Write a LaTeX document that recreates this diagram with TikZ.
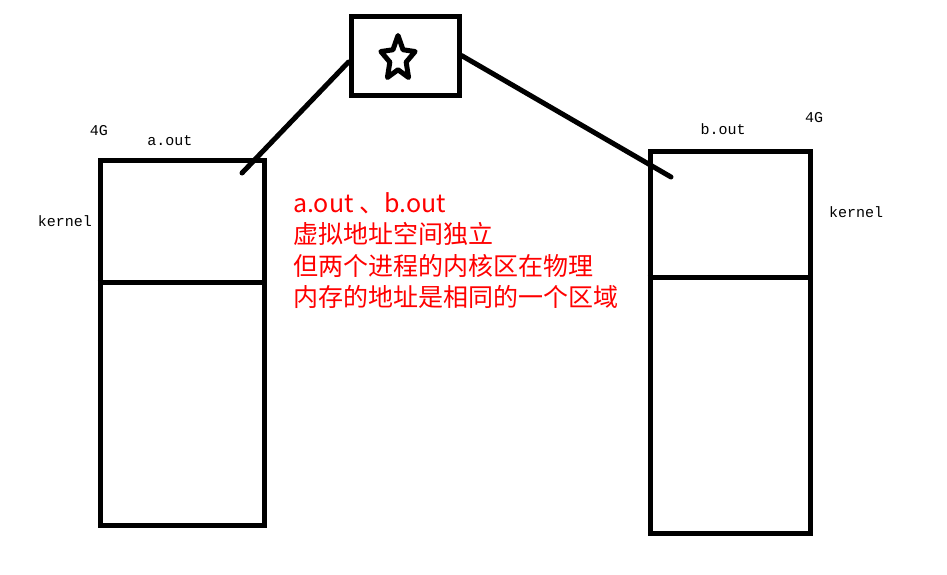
\documentclass[tikz,border=0pt]{standalone}
\usepackage{fontspec}
\newfontfamily\cjkfont{Noto Sans CJK SC}
\newfontfamily\labelfont{Liberation Mono}
\usetikzlibrary{shapes.geometric}
\begin{document}
\begin{tikzpicture}[x=1pt,y=-1pt,
    box/.style={draw,line width=5pt,inner sep=0pt},
    link/.style={line width=5pt,line cap=round},
    lbl/.style={font=\labelfont\fontsize{15}{15}\selectfont,inner sep=0pt}]
  \useasboundingbox (0,0) rectangle (947,574);
  \node[box,minimum width=164pt,minimum height=365pt] (amem) at (182,342.5) {};
  \draw[line width=5pt] (amem.west |- 0,282) -- (amem.east |- 0,282);
  \node[box,minimum width=160pt,minimum height=382pt] (bmem) at (730,342) {};
  \draw[line width=5pt] (bmem.west |- 0,277) -- (bmem.east |- 0,277);
  \node[box,minimum width=108pt,minimum height=79pt] (starbox) at (405,55.5) {};
  \begin{scope}[shift={(398,58.7)},yscale=1.29]
    \node[draw,star,star points=5,star point ratio=2.1,minimum size=36pt,
      line width=5pt,line join=round,inner sep=0pt,transform shape] (star) at (0,0) {};
  \end{scope}
  \coordinate (aend) at (242,173);
  \coordinate (bend) at (671,177);
  \draw[link] ([yshift=-6.5pt]starbox.west) -- (aend);
  \draw[link] (starbox.east) -- (bend);
  \node[lbl] (afour) at (99,131) {4G};
  \node[lbl] (aname) at (170,141) {a.out};
  \node[lbl] (akern) at (65,221) {kernel};
  \node[lbl] (bname) at (723,129) {b.out};
  \node[lbl] (bfour) at (814,118) {4G};
  \node[lbl] (bkern) at (856,212) {kernel};
  \node[font=\cjkfont\fontsize{25}{31.5}\selectfont,text=red,align=left,
    anchor=north west,inner sep=0pt] (note) at (293,192)
    {a.out 、b.out\\虚拟地址空间独立\\但两个进程的内核区在物理\\内存的地址是相同的一个区域};
\end{tikzpicture}
\end{document}
